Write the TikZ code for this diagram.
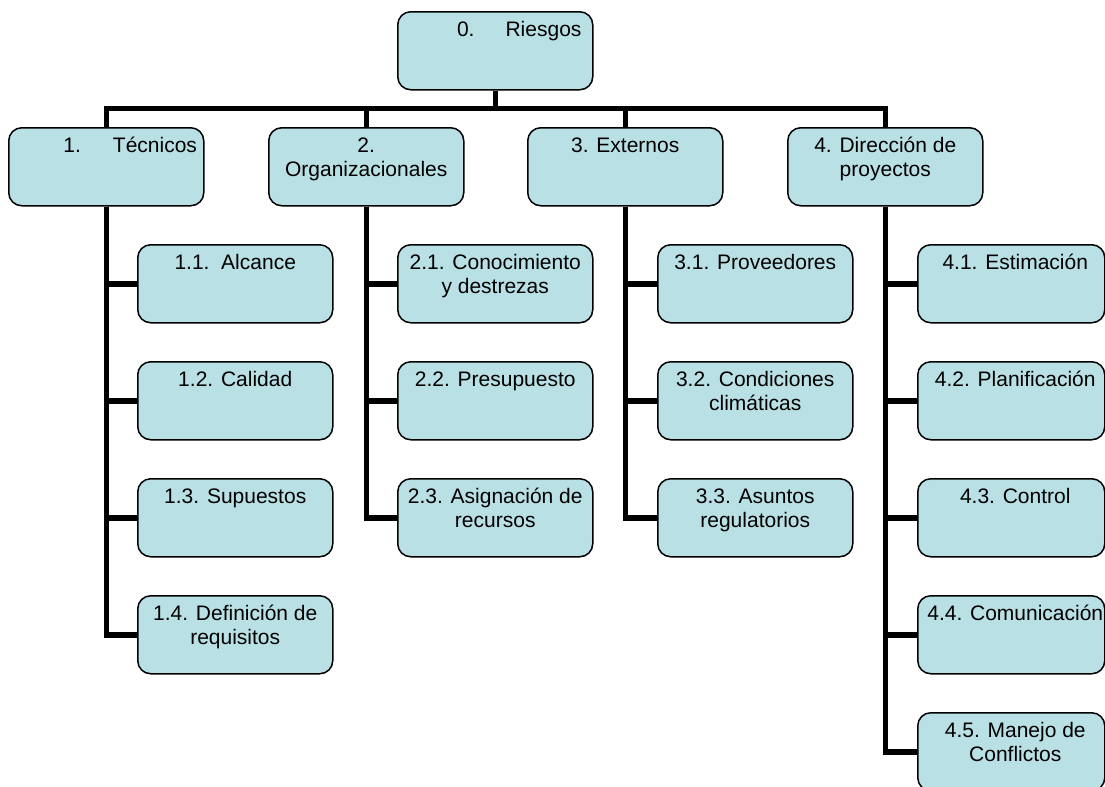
\documentclass[tikz,border=0pt]{standalone}
\usepackage{fontspec}
\setmainfont{Liberation Sans}
\usetikzlibrary{calc}
\newlength\ux
\setlength\ux{0.75pt}
% box text: left offset, text width, contents (top aligned, first baseline 25 units down)
\newcommand\bt[3]{\hspace*{#1\ux}\parbox[c][78\ux][t]{#2\ux}{\centering\rule{0pt}{25\ux}#3}}
\definecolor{boxfill}{RGB}{185,224,228}
\tikzset{
  wbox/.style={draw=black, line width=1.5\ux, fill=boxfill, rounded corners=13\ux,
    anchor=north west, inner sep=0pt, minimum width=195\ux, minimum height=78\ux,
    font=\fontsize{15.75pt}{18pt}\selectfont},
  nbox/.style={wbox, minimum width=187\ux},
  conn/.style={draw=black, line width=5.5\ux, line join=miter}
}
\begin{document}
\begin{tikzpicture}[x=0.75pt, y=-0.75pt]
\useasboundingbox[fill=white] (0,0) rectangle (1105,786);

% root and first level
\node[wbox] (r) at (397,11) {\bt{48}{140}{0.\hspace{31\ux}Riesgos}};
\node[wbox] (t1) at (8,127) {\bt{48}{140}{1.\hspace{32\ux}Técnicos}};
\node[wbox] (t2) at (268,127) {\bt{0}{185}{2.\\Organizacionales}};
\node[wbox] (t3) at (527,127) {\bt{0}{185}{3. Externos}};
\node[wbox] (t4) at (787,127) {\bt{0}{185}{4. Dirección de\\proyectos}};

% 1. Técnicos
\node[wbox] (c11) at (137,244) {\bt{0}{185}{1.1.~\ Alcance}};
\node[wbox] (c12) at (137,361) {\bt{0}{185}{1.2. Calidad}};
\node[wbox] (c13) at (137,478) {\bt{0}{185}{1.3. Supuestos}};
\node[wbox] (c14) at (137,595) {\bt{0}{185}{1.4. Definición de\\requisitos}};

% 2. Organizacionales
\node[wbox] (c21) at (397,244) {\bt{0}{185}{2.1. Conocimiento\\y destrezas}};
\node[wbox] (c22) at (397,361) {\bt{0}{185}{2.2. Presupuesto}};
\node[wbox] (c23) at (397,478) {\bt{0}{185}{2.3. Asignación de\\recursos}};

% 3. Externos
\node[wbox] (c31) at (657,244) {\bt{0}{185}{3.1. Proveedores}};
\node[wbox] (c32) at (657,361) {\bt{0}{185}{3.2. Condiciones\\climáticas}};
\node[wbox] (c33) at (657,478) {\bt{0}{185}{3.3. Asuntos\\regulatorios}};

% 4. Dirección de proyectos
\node[nbox] (c41) at (917,244) {\bt{8}{178}{4.1. Estimación}};
\node[nbox] (c42) at (917,361) {\bt{8}{178}{4.2. Planificación}};
\node[nbox] (c43) at (917,478) {\bt{8}{178}{4.3. Control}};
\node[nbox] (c44) at (917,595) {\bt{8}{178}{4.4. Comunicación}};
\node[nbox] (c45) at (917,712) {\bt{8}{178}{4.5. Manejo de\\Conflictos}};

% root to first level
\coordinate (bar) at ($(r.south)+(0,18)$);
\foreach \t in {t1,t2,t3,t4}
  \draw[conn] (r.south) -- (bar) -| (\t.north);

% first level to children
\foreach \c in {c11,c12,c13,c14} \draw[conn] (t1.south) |- (\c.west);
\foreach \c in {c21,c22,c23} \draw[conn] (t2.south) |- (\c.west);
\foreach \c in {c31,c32,c33} \draw[conn] (t3.south) |- (\c.west);
\foreach \c in {c41,c42,c43,c44,c45} \draw[conn] (t4.south) |- (\c.west);
\end{tikzpicture}
\end{document}
